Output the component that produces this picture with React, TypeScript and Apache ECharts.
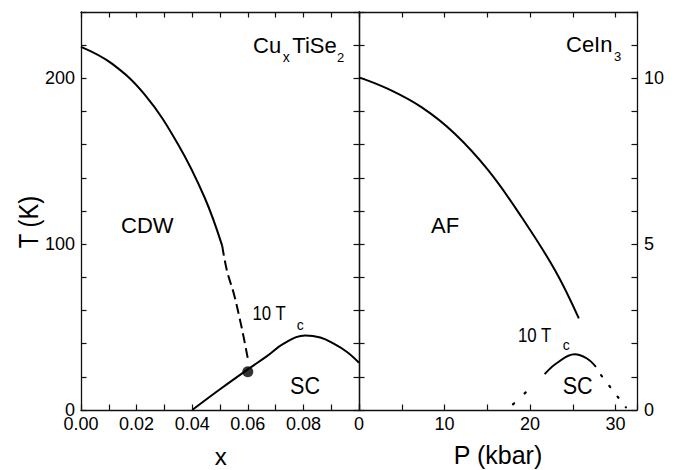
import { useEffect, useRef } from "react";
import * as echarts from "echarts";

// Left panel: CuxTiSe2  (x vs T in K)
const cdwX = [0, 0.011, 0.023, 0.035, 0.0445, 0.0508];
const cdwT = [219, 209, 190, 160, 128, 99];
const cdwDashX = [0.0508, 0.0525, 0.055, 0.0567, 0.0585, 0.06];
const cdwDashT = [99, 84, 70, 58, 44, 31];
const scLeftX = [0.04, 0.05, 0.06, 0.0669, 0.0729, 0.0807, 0.0861, 0.0909, 0.0957, 0.1];
const scLeftT = [0, 12.5, 24.5, 32.5, 40, 45, 43.7, 40, 35, 28.5];
const dotX = [0.06];
const dotT = [23];

// Right panel: CeIn3  (P in kbar vs T in K)
const afP = [0, 3.4, 7.3, 11.2, 15.1, 19.0, 22.9, 25.7];
const afT = [10.03, 9.68, 9.13, 8.33, 7.23, 5.82, 4.22, 2.76];
const scRightP = [21.7, 23.1, 25.2, 26.6, 27.7];
const scRightT = [1.08, 1.41, 1.68, 1.56, 1.3];
const dotLeftP = [18.0, 20.6];
const dotLeftT = [0.17, 0.8];
const dotRightP = [28.3, 31.2];
const dotRightT = [1.05, 0.08];

// Axis ticks
const leftXTicks = [0, 0.02, 0.04, 0.06, 0.08];
const rightXTicks = [0, 10, 20, 30];
const leftYTicks = [0, 100, 200];
const rightYTicks = [0, 5, 10];

const FONT = "'Liberation Sans', Arial, Helvetica, sans-serif";
const zip = (a: number[], b: number[]) => a.map((v, i) => [v, b[i]]);
const near = (v: number, list: number[]) => list.some((t) => Math.abs(t - v) < 1e-6);

const lineCol = "#111";

function axisBase(extra: any) {
  return {
    type: "value",
    axisLine: { show: true, onZero: false, lineStyle: { color: lineCol, width: 1.3 } },
    axisTick: { show: true, inside: true, length: 5.5, lineStyle: { color: lineCol, width: 1.2 } },
    splitLine: { show: false },
    axisLabel: { show: false },
    ...extra,
  };
}

function label(list: number[], fmt: (v: number) => string, margin: number) {
  return {
    show: true,
    margin,
    color: "#000",
    fontSize: 18,
    lineHeight: 13,
    fontFamily: FONT,
    showMinLabel: true,
    showMaxLabel: true,
    formatter: (v: number) => (near(v, list) ? fmt(v) : ""),
  };
}

function txt(text: string, x: number, y: number, size: number, extra: any = {}) {
  return {
    type: "text",
    x,
    y,
    ...extra,
    style: {
      text,
      fill: "#000",
      font: `${size}px ${FONT}`,
      align: "left",
      verticalAlign: "middle",
      textAlign: "left",
      textVerticalAlign: "middle",
      ...(extra.style || {}),
    },
  };
}

export default function App() {
  const ref = useRef<HTMLDivElement>(null);
  useEffect(() => {
    if (!ref.current) return;
    const chart = echarts.init(ref.current, undefined, { renderer: "svg" });
    const solid = { color: "#000", width: 2 };
    chart.setOption({
      animation: false,
      backgroundColor: "#fff",
      grid: [
        { left: 81, top: 12, width: 278, height: 398, outerBoundsMode: "none", containLabel: false },
        { left: 359, top: 12, width: 278, height: 398, outerBoundsMode: "none", containLabel: false },
      ],
      xAxis: [
        axisBase({
          gridIndex: 0, position: "bottom", min: 0, max: 0.1, interval: 0.01,
          axisLabel: label(leftXTicks, (v) => v.toFixed(2), 7),
        }),
        axisBase({ gridIndex: 0, position: "top", min: 0, max: 0.1, interval: 0.01 }),
        axisBase({
          gridIndex: 1, position: "bottom", min: 0, max: 32.5, interval: 5,
          axisLabel: label(rightXTicks, (v) => String(Math.round(v)), 7),
        }),
        axisBase({ gridIndex: 1, position: "top", min: 0, max: 32.5, interval: 5 }),
      ],
      yAxis: [
        axisBase({
          gridIndex: 0, position: "left", min: 0, max: 240, interval: 20,
          axisLabel: label(leftYTicks, (v) => String(Math.round(v)), 6),
        }),
        axisBase({ gridIndex: 0, position: "right", min: 0, max: 240, interval: 20 }),
        axisBase({ gridIndex: 1, position: "left", min: 0, max: 12, interval: 1 }),
        axisBase({
          gridIndex: 1, position: "right", min: 0, max: 12, interval: 1,
          axisLabel: label(rightYTicks, (v) => String(Math.round(v)), 7),
        }),
      ],
      series: [
        {
          type: "line", xAxisIndex: 0, yAxisIndex: 0, data: zip(cdwX, cdwT),
          smooth: 0.4, showSymbol: false, lineStyle: solid,
        },
        {
          type: "line", xAxisIndex: 0, yAxisIndex: 0, data: zip(cdwDashX, cdwDashT),
          smooth: 0.4, showSymbol: false, lineStyle: { color: "#000", width: 2, type: [10, 5] },
        },
        {
          type: "line", xAxisIndex: 0, yAxisIndex: 0, data: zip(scLeftX, scLeftT),
          smooth: 0.4, showSymbol: false, lineStyle: solid,
        },
        {
          type: "scatter", xAxisIndex: 0, yAxisIndex: 0, data: zip(dotX, dotT),
          symbolSize: 11, itemStyle: { color: "#000" }, z: 5,
        },
        {
          type: "line", xAxisIndex: 2, yAxisIndex: 2, data: zip(afP, afT),
          smooth: 0.4, showSymbol: false, lineStyle: solid,
        },
        {
          type: "line", xAxisIndex: 2, yAxisIndex: 2, data: zip(scRightP, scRightT),
          smooth: 0.4, showSymbol: false, lineStyle: solid,
        },
        {
          type: "line", xAxisIndex: 2, yAxisIndex: 2, data: zip(dotLeftP, dotLeftT),
          showSymbol: false, lineStyle: { color: "#000", width: 2.2, type: [1.5, 14.5], cap: "round" },
        },
        {
          type: "line", xAxisIndex: 2, yAxisIndex: 2, data: zip(dotRightP, dotRightT),
          showSymbol: false, lineStyle: { color: "#000", width: 2.2, type: [1.5, 12], cap: "round" },
        },
      ],
      graphic: [
        txt("CDW", 121, 225, 22),
        txt("AF", 431, 225.5, 22),
        txt("10 T", 252.5, 312.5, 20.5, { scaleX: 0.82 }),
        txt("c", 296.7, 324.8, 14),
        txt("SC", 290, 385.5, 24, { scaleX: 0.9 }),
        txt("10 T", 518, 334.5, 20.5, { scaleX: 0.82 }),
        txt("c", 562.7, 344.5, 14),
        txt("SC", 562.7, 385.5, 24, { scaleX: 0.9 }),
        txt("Cu", 253, 45.5, 22),
        txt("x", 282.7, 56.8, 14),
        txt("TiSe", 292.3, 45.5, 22),
        txt("2", 337, 57.2, 13),
        txt("CeIn", 566, 44.2, 22),
        txt("3", 614, 56.2, 13),
        txt("T (K)", 28, 222, 28, {
          rotation: Math.PI / 2,
          scaleX: 0.85,
          style: { align: "center", textAlign: "center" },
        }),
        txt("x", 220.8, 456.7, 24, { style: { align: "center", textAlign: "center" } }),
        txt("P (kbar)", 498, 455.3, 25, { style: { align: "center", textAlign: "center" } }),
      ],
    });
    return () => chart.dispose();
  }, []);
  return (
    <div
      ref={ref}
      style={{ position: "fixed", left: 0, top: 0, width: 677, height: 470, background: "#fff" }}
    />
  );
}
